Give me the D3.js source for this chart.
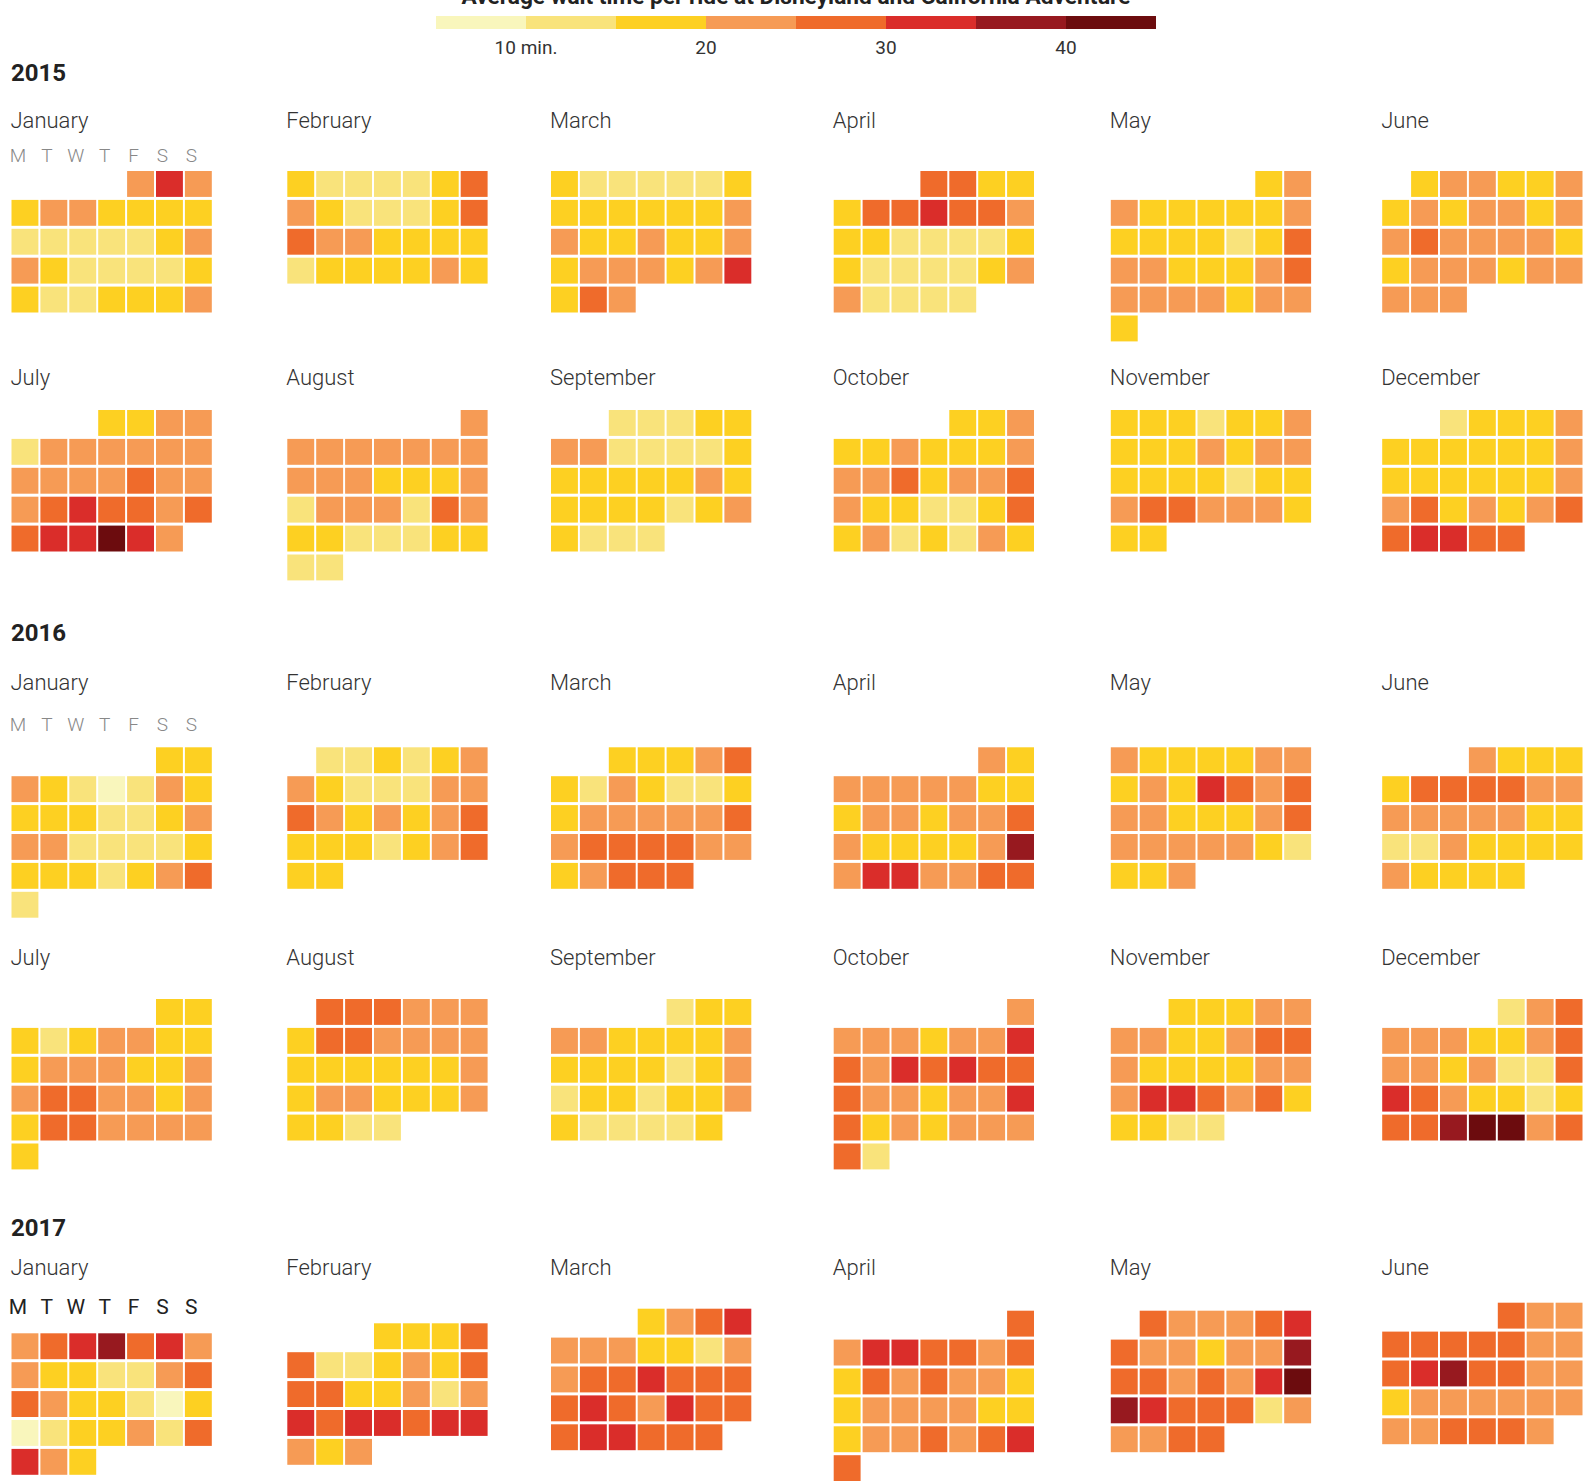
<!DOCTYPE html>
<html>
<head>
<meta charset="utf-8">
<script src="https://cdn.jsdelivr.net/npm/d3@7"></script>
<style>
  body { margin: 0; background: #fff; }
  svg { display: block; font-family: Roboto, "Open Sans", sans-serif; }
</style>
</head>
<body>
<script>
// ! Labels and legend
const monthNames = ["January", "February", "March", "April", "May", "June",
  "July", "August", "September", "October", "November", "December"];
const dayLetters = ["M", "T", "W", "T", "F", "S", "S"];
const legendTicks = [10, 20, 30, 40];
const legendTickLabels = ["10 min.", "20", "30", "40"];
const binEdges = [10, 15, 20, 25, 30, 35, 40];
const binColors = ["#f9f6bc", "#f9e37b", "#fdd022", "#f69b55", "#ef6b2b", "#da2d2a", "#97191f", "#6c0c0e"];

// ! Average wait in minutes, one array per month, day 1 first
// prettier-ignore
const waits2015 = [
  [22,32,22, 17,22,22,17,17,17,17, 12,12,12,12,12,17,22, 22,17,12,12,12,12,17, 17,12,12,17,17,17,22],
  [17,12,12,12,12,17,27, 22,17,12,12,12,17,27, 27,22,22,17,17,17,17, 12,17,17,17,17,22,17],
  [17,12,12,12,12,12,17, 17,17,17,17,17,17,22, 22,17,17,22,17,17,22, 17,22,22,22,17,22,32, 17,27,22],
  [27,27,17,17, 17,27,27,32,27,27,22, 17,17,12,12,12,12,17, 17,12,12,12,12,17,22, 22,12,12,12,12],
  [17,22, 22,17,17,17,17,17,22, 17,17,17,17,12,17,27, 22,22,17,17,17,22,27, 22,22,22,22,17,22,22, 17],
  [17,22,22,17,17,22, 17,22,17,22,22,17,22, 22,27,22,22,22,22,17, 17,22,22,22,17,22,22, 22,22,22],
  [17,17,22,22, 12,22,22,22,22,22,22, 22,22,22,22,27,22,22, 22,27,32,27,27,22,27, 27,32,32,42,32,22],
  [22, 22,22,22,22,22,22,22, 22,22,22,17,17,17,22, 12,22,22,22,12,27,22, 17,17,12,12,12,17,17, 12,12],
  [12,12,12,17,17, 22,22,12,12,12,12,17, 17,17,17,17,17,22,17, 17,17,17,17,12,17,22, 17,12,12,12],
  [17,17,22, 17,17,22,17,17,17,22, 22,22,27,17,22,22,27, 22,17,17,12,12,17,27, 17,22,12,17,12,22,17],
  [17,17,17,12,17,17,22, 17,17,17,22,17,22,22, 17,17,17,17,12,17,17, 22,27,27,22,22,22,17, 17,17],
  [12,17,17,17,22, 17,17,17,17,17,17,22, 17,17,17,17,17,17,22, 22,27,17,22,17,22,27, 27,32,32,27,27]
];
// prettier-ignore
const waits2016 = [
  [17,17, 22,17,12,8,12,22,17, 17,17,17,12,12,17,22, 22,22,12,12,12,12,17, 17,17,17,12,17,22,27, 12],
  [12,12,17,12,17,22, 22,17,12,12,12,22,22, 27,22,17,22,17,22,27, 17,17,17,12,17,22,27, 17,17],
  [17,17,17,22,27, 17,12,22,17,12,12,17, 17,22,22,22,22,22,27, 22,27,27,27,27,22,22, 17,22,27,27,27],
  [22,17, 22,22,22,22,22,17,17, 17,22,22,17,22,22,27, 22,17,17,17,17,22,37, 22,32,32,22,22,27,27],
  [22,17,17,17,17,22,22, 17,22,17,32,27,22,27, 22,22,17,17,17,22,27, 22,22,22,22,22,17,12, 17,17,22],
  [22,17,17,17, 17,27,27,27,27,22,22, 22,22,22,22,22,17,17, 12,12,22,17,17,17,17, 22,17,17,17,17],
  [17,17, 17,12,17,22,22,17,17, 17,22,22,22,17,17,22, 22,27,27,22,22,17,22, 17,27,27,22,22,22,22, 17],
  [27,27,27,22,22,22, 17,27,27,22,22,22,22, 17,17,17,17,17,17,22, 17,22,22,17,17,17,22, 17,17,12,12],
  [12,17,17, 22,22,17,17,17,17,22, 17,17,17,17,12,17,22, 12,17,17,12,17,17,22, 17,12,12,12,12,17],
  [22, 22,22,22,17,22,22,32, 27,22,32,27,32,27,27, 27,22,22,17,22,22,32, 27,17,22,17,22,22,22, 27,12],
  [17,17,17,22,22, 22,22,17,17,22,27,27, 22,17,17,17,17,22,22, 22,32,32,27,22,27,17, 17,17,12,12],
  [12,22,27, 22,22,22,17,17,22,27, 22,22,17,22,12,12,27, 32,27,22,17,17,12,17, 27,27,37,42,42,22,27]
];
// prettier-ignore
const waits2017 = [
  [22,27,32,37,27,32,22, 22,17,17,12,12,22,27, 27,22,17,17,12,8,17, 8,12,17,17,22,12,27, 32,22,17],
  [17,17,17,27, 27,12,12,17,22,17,27, 27,27,17,17,22,12,22, 32,27,32,32,27,32,32, 22,17,22],
  [17,22,27,32, 22,22,22,17,17,12,22, 22,27,27,32,27,27,27, 27,32,27,22,32,27,27, 27,32,32,27,27,27],
  [27, 22,32,32,27,27,22,27, 17,27,22,27,22,22,17, 17,22,22,22,22,17,17, 17,22,22,27,22,27,32, 27],
  [27,22,22,22,27,32, 27,22,22,17,22,22,37, 27,27,22,27,22,32,42, 37,32,27,27,27,12,22, 22,22,27,27],
  [27,22,22, 27,27,27,27,27,22,22, 27,32,37,27,27,22,22, 17,22,22,22,22,22,22, 22,22,27,27,27,22]
];
const waitsByYear = { 2015: waits2015, 2016: waits2016, 2017: waits2017 };

// ! Layout
const width = 1588;
const height = 1481;
const pitch = 28.9;
const blockLeft = [11.5, 287.3, 551, 833.7, 1110.8, 1382.2];

// one entry per row of six months
const panels = [
  { year: 2015, half: 0, yearY: 81, labelY: 128, dowY: 161.5, dark: false, tops: [171, 171, 171, 171, 171, 171] },
  { year: 2015, half: 1, labelY: 385, tops: [410, 410, 410, 410, 410, 410] },
  { year: 2016, half: 0, yearY: 641, labelY: 690, dowY: 731, dark: false, tops: [747.3, 747.3, 747.3, 747.3, 747.3, 747.3] },
  { year: 2016, half: 1, labelY: 965, tops: [999, 999, 999, 999, 999, 999] },
  { year: 2017, half: 0, yearY: 1236, labelY: 1275, dowY: 1314, dark: true, tops: [1333.3, 1323.3, 1308.7, 1310.7, 1310.7, 1302.7] }
];

const svg = d3
  .select("body")
  .append("svg")
  .attr("width", width)
  .attr("height", height)
  .style("background-color", "white");

const color = d3.scaleThreshold().domain(binEdges).range(binColors);

// ! Title (the top of it falls off the page, as in the original) and legend
svg
  .append("text")
  .attr("x", 796)
  .attr("y", 4)
  .attr("text-anchor", "middle")
  .attr("font-size", 22.7)
  .attr("font-weight", "bold")
  .attr("fill", "#222")
  .text("Average wait time per ride at Disneyland and California Adventure");

const legendX = d3.scaleLinear().domain([5, 45]).range([436, 1156]);
svg
  .append("g")
  .selectAll("rect")
  .data(binColors)
  .join("rect")
  .attr("x", (c) => legendX(color.invertExtent(c)[0] ?? 5))
  .attr("width", (c) => legendX(color.invertExtent(c)[1] ?? 45) - legendX(color.invertExtent(c)[0] ?? 5))
  .attr("y", 16)
  .attr("height", 13)
  .attr("fill", (c) => c);

svg
  .append("g")
  .selectAll("text")
  .data(legendTicks)
  .join("text")
  .attr("x", (d) => legendX(d))
  .attr("y", 54)
  .attr("text-anchor", "middle")
  .attr("font-size", 19)
  .attr("fill", "#333")
  .text((d, i) => legendTickLabels[i]);

// ! Calendar scales
const colX = d3.scaleBand().domain(d3.range(7)).range([0, 7 * pitch - 2]).paddingInner(2 / pitch);
const rowY = d3.scaleBand().domain(d3.range(6)).range([0, 6 * pitch - 3]).paddingInner(3 / pitch);
const blockX = d3.scaleOrdinal().domain(d3.range(6)).range(blockLeft);

panels.forEach((p) => {
  const g = svg.append("g");

  if (p.yearY) {
    g.append("text")
      .attr("x", 11)
      .attr("y", p.yearY)
      .attr("font-size", 24)
      .attr("font-weight", "bold")
      .attr("fill", "#222")
      .text(p.year);

    g.append("g")
      .selectAll("text")
      .data(dayLetters)
      .join("text")
      .attr("x", (d, i) => blockX(0) + colX(i) + colX.bandwidth() / 2 - 7)
      .attr("y", p.dowY)
      .attr("text-anchor", "middle")
      .attr("font-size", p.dark ? 21 : 19)
      .attr("font-weight", p.dark ? "normal" : 300)
      .attr("fill", p.dark ? "#222" : "#888")
      .text((d) => d);
  }

  d3.range(6).forEach((k) => {
    const m = p.half * 6 + k;
    const values = waitsByYear[p.year][m];
    if (!values) return;
    const first = new Date(p.year, m, 1);
    const days = values.map((v, i) => ({ date: new Date(p.year, m, i + 1), value: v }));

    g.append("text")
      .attr("x", blockX(k) - 1)
      .attr("y", p.labelY)
      .attr("font-size", 22)
      .attr("font-weight", 300)
      .attr("fill", "#333")
      .text(monthNames[m]);

    g.append("g")
      .attr("transform", `translate(${blockX(k)}, ${p.tops[k]})`)
      .selectAll("rect")
      .data(days)
      .join("rect")
      .attr("x", (d) => colX(d.date.getDay()))
      .attr("y", (d) => rowY(d3.timeWeek.count(first, d.date)))
      .attr("width", colX.bandwidth())
      .attr("height", rowY.bandwidth())
      .attr("fill", (d) => color(d.value));
  });
});
</script>
</body>
</html>
